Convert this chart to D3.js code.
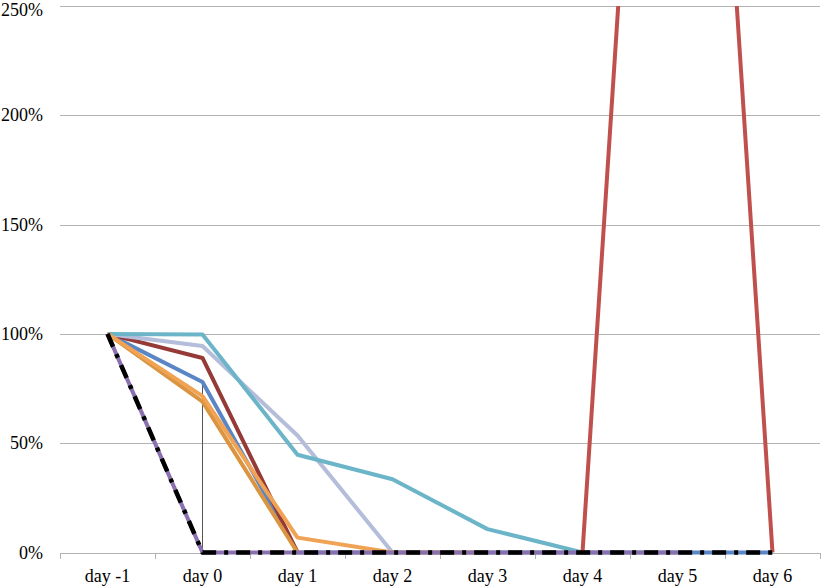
<!DOCTYPE html>
<html>
<head>
<meta charset="utf-8">
<script src="https://cdn.jsdelivr.net/npm/d3@7"></script>
<style>
  body { margin: 0; background: #fff; }
  text { font-family: "Liberation Serif", "Times New Roman", serif; font-size: 18px; fill: #000; }
</style>
</head>
<body>
<div id="chart"></div>
<script>
// categories on the x axis
const days = ["day -1", "day 0", "day 1", "day 2", "day 3", "day 4", "day 5", "day 6"];
const yTicks = [0, 50, 100, 150, 200, 250];

// series values in percent (null = no point)
const blueVals     = [100, 78, 0, 0, 0, 0, 0, 0];
const darkRedVals  = [100, 89, 0, null, null, null, null, null];
const lavenderVals = [100, 94.5, 53.5, 0, null, null, null, null];
const aquaVals     = [100, 99.7, 44.7, 33.5, 10.7, 0, null, null];
const tanVals      = [100, 69, 0, null, null, null, null, null];
const orangeVals   = [100, 71.5, 6.8, 0, 0, null, null, null];
const purpleVals   = [100, 0, 0, 0, 0, 0, 0, null];
const brickVals    = [null, null, null, null, null, 0, 665, 0];
const blackVals    = [100, 0, 0, 0, 0, 0, 0, 0];

// drawing order, bottom first
const series = [
    { name: "blue", values: blueVals, color: "#5b86c6" },
    { name: "darkred", values: darkRedVals, color: "#953a37" },
    { name: "lavender", values: lavenderVals, color: "#b4bdd9" },
    { name: "aqua", values: aquaVals, color: "#6cb5c9" },
    { name: "tan", values: tanVals, color: "#db9440" },
    { name: "orange", values: orangeVals, color: "#f0a354" },
    { name: "purple", values: purpleVals, color: "#8a70ae" },
    { name: "brick", values: brickVals, color: "#c0504d" },
    { name: "black", values: blackVals, color: "#000", dash: "14,8,4,8", width: 4.5 }
];

const width = 827, height = 587;
const margin = { top: 6, right: 7, bottom: 35, left: 60 };

const svg = d3.select("#chart").append("svg")
    .attr("width", width)
    .attr("height", height);

const x = d3.scaleBand()
    .domain(days)
    .range([margin.left, width - margin.right]);

const y = d3.scaleLinear()
    .domain([0, 250])
    .range([height - margin.bottom + 0.5, margin.top]);

// gridlines
svg.append("g")
    .selectAll("line")
    .data(yTicks)
    .enter().append("line")
    .attr("x1", margin.left)
    .attr("x2", width - margin.right)
    .attr("y1", d => Math.round(y(d)) + 0.5)
    .attr("y2", d => Math.round(y(d)) + 0.5)
    .attr("stroke", "#b3b3b3")
    .attr("stroke-width", 1);

// y labels (top one nudged down so it isn't cut off)
svg.append("g")
    .selectAll("text")
    .data(yTicks)
    .enter().append("text")
    .attr("x", 43)
    .attr("y", d => Math.max(y(d) + 6, 16))
    .attr("text-anchor", "end")
    .text(d => d + "%");

// x axis tick marks at band edges
const edges = days.map(d => x(d)).concat([x(days[days.length - 1]) + x.bandwidth()]);
svg.append("g")
    .selectAll("line")
    .data(edges)
    .enter().append("line")
    .attr("x1", d => Math.round(d) + 0.5)
    .attr("x2", d => Math.round(d) + 0.5)
    .attr("y1", Math.round(y(0)))
    .attr("y2", Math.round(y(0)) + 6)
    .attr("stroke", "#b3b3b3");

svg.append("g")
    .selectAll("text")
    .data(days)
    .enter().append("text")
    .attr("x", d => x(d) + x.bandwidth() / 2)
    .attr("y", 582)
    .attr("text-anchor", "middle")
    .text(d => d);

// clip to the plot area
svg.append("clipPath")
    .attr("id", "plot")
    .append("rect")
    .attr("x", margin.left)
    .attr("y", y(250))
    .attr("width", width - margin.left - margin.right)
    .attr("height", y(0) - y(250) + 10);

const cx = d => x(d) + x.bandwidth() / 2;

// thin drop line at day 0 up to the blue point
svg.append("line")
    .attr("x1", cx("day 0"))
    .attr("x2", cx("day 0"))
    .attr("y1", y(0))
    .attr("y2", y(blueVals[1]))
    .attr("stroke", "#555")
    .attr("stroke-width", 1);

const line = d3.line()
    .defined(d => d.v !== null)
    .x(d => cx(d.day))
    .y(d => y(d.v));

svg.append("g")
    .attr("clip-path", "url(#plot)")
    .selectAll("path")
    .data(series)
    .enter().append("path")
    .attr("d", s => line(s.values.map((v, i) => ({ day: days[i], v: v }))))
    .attr("fill", "none")
    .attr("stroke", s => s.color)
    .attr("stroke-width", s => s.width || 4)
    .attr("stroke-dasharray", s => s.dash || null)
    .attr("stroke-linejoin", "round");
</script>
</body>
</html>
